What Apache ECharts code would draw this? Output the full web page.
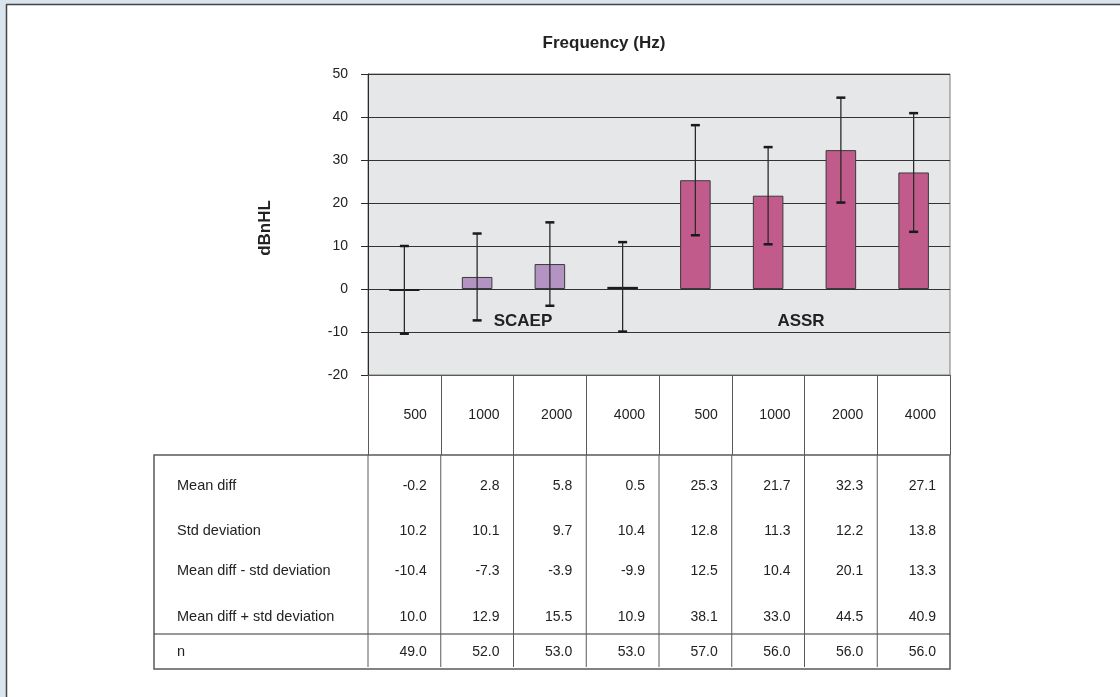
<!DOCTYPE html>
<html>
<head>
<meta charset="utf-8">
<script src="https://cdn.jsdelivr.net/npm/echarts@6/dist/echarts.min.js"></script>
<style>
  html, body { margin: 0; padding: 0; background: #ffffff; }
  #chart { width: 1120px; height: 697px; }
</style>
</head>
<body>
<div id="chart"></div>
<script>
// Threshold differences by stimulus method and frequency
const frequencies  = ['500', '1000', '2000', '4000', '500', '1000', '2000', '4000'];
const methods      = ['SCAEP', 'SCAEP', 'SCAEP', 'SCAEP', 'ASSR', 'ASSR', 'ASSR', 'ASSR'];
const meanDiff     = [-0.2, 2.8, 5.8, 0.5, 25.3, 21.7, 32.3, 27.1];
const stdDev       = [10.2, 10.1, 9.7, 10.4, 12.8, 11.3, 12.2, 13.8];
const meanMinusStd = [-10.4, -7.3, -3.9, -9.9, 12.5, 10.4, 20.1, 13.3];
const meanPlusStd  = [10.0, 12.9, 15.5, 10.9, 38.1, 33.0, 44.5, 40.9];
const nSubjects    = [49.0, 52.0, 53.0, 53.0, 57.0, 56.0, 56.0, 56.0];
const rowLabels    = ['Mean diff', 'Std deviation', 'Mean diff - std deviation', 'Mean diff + std deviation', 'n'];
const yRange       = { min: -20, max: 50, step: 10 };

// Layout
const FONT = "'Liberation Sans', Arial, Helvetica, sans-serif";
const INK = '#222222';
const LINE = '#5a5a5a';
const GRID = { left: 368, top: 74, width: 582, height: 301 };
const HEADER_BOTTOM = 455;
const TABLE_LEFT = 154;
const TABLE_BOTTOM = 669;
const N_SEPARATOR = 634;
const ROW_Y = [486, 531, 571, 617, 652];
const CELL_PAD = 14;

const methodColor = { SCAEP: '#b293c1', ASSR: '#c05b8b' };
const keys = frequencies.map((f, i) => methods[i] + ' ' + f);
const rows = [meanDiff, stdDev, meanMinusStd, meanPlusStd, nSubjects];

const chart = echarts.init(document.getElementById('chart'), null, { renderer: 'canvas' });

const barData = meanDiff.map((v, i) => {
  // a very short bar reads as a solid dark block
  const flat = Math.abs(v) < 1;
  return {
    value: v,
    itemStyle: {
      color: flat ? '#1c1c1c' : methodColor[methods[i]],
      borderColor: flat ? '#1c1c1c' : '#3a3a3a',
      borderWidth: flat ? (v > 0 ? 2 : 1) : 1
    }
  };
});

const errorData = meanDiff.map((_, i) => [i, meanMinusStd[i], meanPlusStd[i]]);

function renderErrorBar(params, api) {
  const x = api.value(0);
  const lo = api.coord([x, api.value(1)]);
  const hi = api.coord([x, api.value(2)]);
  const hw = 4.5;
  return {
    type: 'group',
    children: [
      { type: 'line', shape: { x1: hi[0], y1: hi[1], x2: lo[0], y2: lo[1] },
        style: { stroke: '#2b2b2b', lineWidth: 1.3 } },
      { type: 'line', shape: { x1: hi[0] - hw, y1: hi[1], x2: hi[0] + hw, y2: hi[1] },
        style: { stroke: '#1a1a1a', lineWidth: 2.5 } },
      { type: 'line', shape: { x1: lo[0] - hw, y1: lo[1], x2: lo[0] + hw, y2: lo[1] },
        style: { stroke: '#1a1a1a', lineWidth: 2.5 } }
    ]
  };
}

chart.setOption({
  animation: false,
  backgroundColor: '#ffffff',
  textStyle: { fontFamily: FONT },
  grid: {
    left: GRID.left, top: GRID.top, width: GRID.width, height: GRID.height,
    show: true, backgroundColor: '#e6e7e8', borderColor: '#7a7a7a', borderWidth: 1
  },
  xAxis: {
    type: 'category',
    data: keys,
    boundaryGap: true,
    axisLine: { show: true, onZero: false, lineStyle: { color: LINE, width: 1 } },
    axisTick: { show: true, inside: false, length: HEADER_BOTTOM - (GRID.top + GRID.height), lineStyle: { color: LINE, width: 1 } },
    axisLabel: {
      margin: 33,
      formatter: (v, i) => '{v|' + frequencies[i] + '}',
      rich: { v: { width: 72.75 - 2 * CELL_PAD, align: 'right', fontSize: 14, color: INK, fontFamily: FONT } }
    },
    splitLine: { show: false }
  },
  yAxis: {
    type: 'value',
    min: yRange.min, max: yRange.max, interval: yRange.step,
    axisLine: { show: true, lineStyle: { color: '#2a2a2a', width: 1 } },
    axisTick: { show: true, length: 7, lineStyle: { color: '#2a2a2a', width: 1 } },
    axisLabel: { fontSize: 14, color: INK, margin: 20, fontFamily: FONT },
    splitLine: { show: true, lineStyle: { color: '#333333', width: 1 } }
  },
  series: [
    { type: 'bar', data: barData, barWidth: '42%', barMinHeight: 2, z: 2 },
    { type: 'custom', data: errorData, renderItem: renderErrorBar,
      encode: { x: 0, y: [1, 2] }, z: 3 }
  ]
});

// Frame, titles and the statistics table beneath the plot
const xAt = i => chart.convertToPixel({ xAxisIndex: 0 }, keys[i]);
const cellW = xAt(1) - xAt(0);
const graphic = [];

graphic.push(
  { type: 'rect', shape: { x: 0, y: 0, width: 1120, height: 4 }, style: { fill: '#d9e4ec' }, silent: true },
  { type: 'rect', shape: { x: 0, y: 0, width: 6, height: 697 }, style: { fill: '#d9e4ec' }, silent: true },
  { type: 'line', shape: { x1: 6, y1: 4.5, x2: 1120, y2: 4.5 }, style: { stroke: '#444', lineWidth: 1.5 } },
  { type: 'line', shape: { x1: 6.5, y1: 4, x2: 6.5, y2: 697 }, style: { stroke: '#444', lineWidth: 1.5 } }
);

graphic.push(
  { type: 'text', x: 604, y: 43,
    style: { text: 'Frequency (Hz)', font: 'bold 17px ' + FONT, fill: INK, textAlign: 'center', textVerticalAlign: 'middle' } },
  { type: 'text', x: 265, y: 228, rotation: Math.PI / 2,
    style: { text: 'dBnHL', font: 'bold 17px ' + FONT, fill: INK, textAlign: 'center', textVerticalAlign: 'middle' } },
  { type: 'text', x: 523, y: 321,
    style: { text: 'SCAEP', font: 'bold 17px ' + FONT, fill: INK, textAlign: 'center', textVerticalAlign: 'middle' } },
  { type: 'text', x: 801, y: 321,
    style: { text: 'ASSR', font: 'bold 17px ' + FONT, fill: INK, textAlign: 'center', textVerticalAlign: 'middle' } }
);

const tableRight = xAt(keys.length - 1) + cellW / 2;
graphic.push(
  { type: 'rect', shape: { x: TABLE_LEFT, y: HEADER_BOTTOM, width: tableRight - TABLE_LEFT, height: TABLE_BOTTOM - HEADER_BOTTOM },
    style: { fill: 'none', stroke: LINE, lineWidth: 1.5 } },
  { type: 'line', shape: { x1: TABLE_LEFT, y1: N_SEPARATOR, x2: tableRight, y2: N_SEPARATOR },
    style: { stroke: '#333', lineWidth: 1.2 } }
);
for (let i = 0; i < keys.length; i++) {
  const left = xAt(i) - cellW / 2;
  graphic.push({ type: 'line', shape: { x1: left, y1: HEADER_BOTTOM, x2: left, y2: TABLE_BOTTOM - 2 },
    style: { stroke: LINE, lineWidth: 1 } });
}
rowLabels.forEach((label, r) => {
  graphic.push({ type: 'text', x: TABLE_LEFT + 23, y: ROW_Y[r],
    style: { text: label, font: '14.5px ' + FONT, fill: INK, textAlign: 'left', textVerticalAlign: 'middle' } });
  rows[r].forEach((v, i) => {
    graphic.push({ type: 'text', x: xAt(i) + cellW / 2 - CELL_PAD, y: ROW_Y[r],
      style: { text: v.toFixed(1), font: '14px ' + FONT, fill: INK, textAlign: 'right', textVerticalAlign: 'middle' } });
  });
});

chart.setOption({ graphic: graphic });
</script>
</body>
</html>
